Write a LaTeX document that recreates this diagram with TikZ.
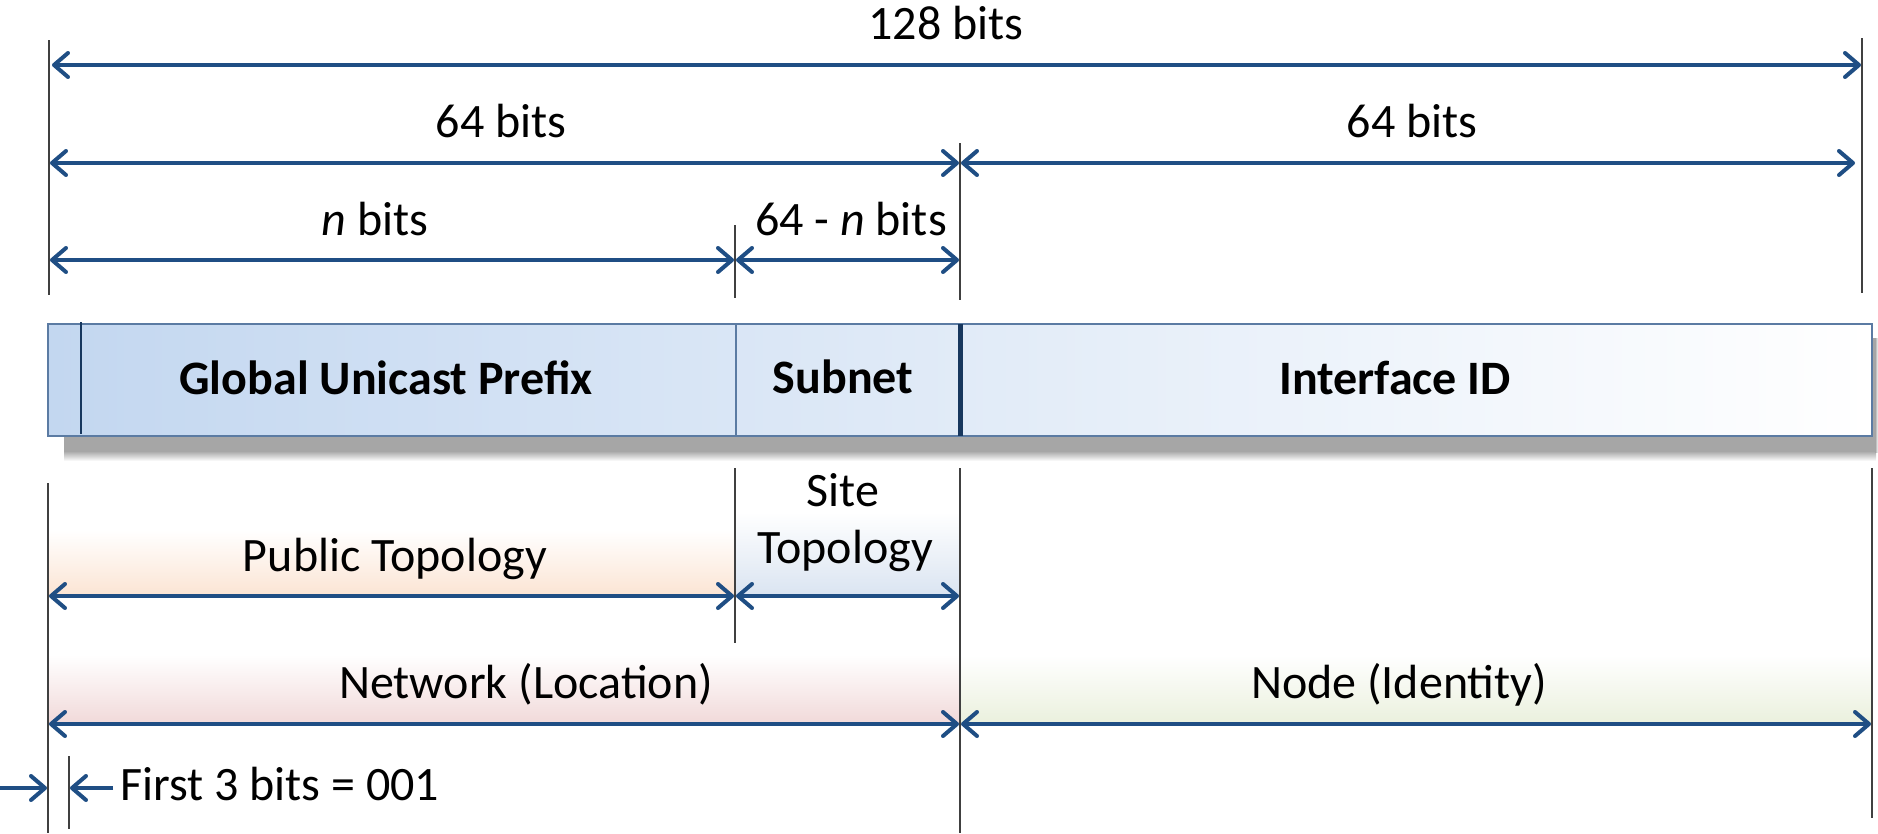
\documentclass[tikz,border=0pt]{standalone}
\usepackage{fontspec}
\setmainfont{Carlito}
\usetikzlibrary{arrows.meta}
\definecolor{arrowc}{HTML}{1F4E84}
\definecolor{vline}{HTML}{404040}
\definecolor{barborder}{HTML}{5B7BA3}
\definecolor{barnavy}{HTML}{17375E}
\definecolor{barblue}{HTML}{C3D7F0}
\definecolor{shadowc}{HTML}{A6A6A6}
\definecolor{orangef}{HTML}{FBE4D3}
\definecolor{bluef}{HTML}{DAE4F1}
\definecolor{pinkf}{HTML}{F1D9D9}
\definecolor{greenf}{HTML}{EAF0DD}
\begin{document}
\begin{tikzpicture}[x=1pt,y=-1pt,
  dim/.style={draw=arrowc, line width=4pt,
    {Straight Barb[length=14pt,width=24pt,round]}-{Straight Barb[length=14pt,width=24pt,round]}},
  dimr/.style={draw=arrowc, line width=4pt, -{Straight Barb[length=14pt,width=24pt,round]}},
  guide/.style={draw=vline, line width=2pt},
  lbl/.style={inner sep=0pt, anchor=base, font=\fontsize{48}{57}\selectfont},
  blbl/.style={lbl, font=\fontsize{48}{57}\selectfont\bfseries}]
\useasboundingbox (0,0) rectangle (1878,833);

% ---------- top guides ----------
\coordinate (tL1) at (49,40);   \coordinate (tL2) at (49,295);
\coordinate (tR1) at (1862,38); \coordinate (tR2) at (1862,293);
\coordinate (tM1) at (960,143); \coordinate (tM2) at (960,300);
\coordinate (tS1) at (735,225); \coordinate (tS2) at (735,298);
\draw[guide] (tL1) -- (tL2);
\draw[guide] (tR1) -- (tR2);
\draw[guide] (tM1) -- (tM2);
\draw[guide] (tS1) -- (tS2);

% top dimension arrows
\coordinate (a128l) at (52,65);  \coordinate (a128r) at (1861,65);
\coordinate (a64l)  at (50,163); \coordinate (a64m)  at (959,163);
\coordinate (a64m2) at (961,163);\coordinate (a64r)  at (1855,163);
\coordinate (anl)   at (50,260); \coordinate (anm)   at (734,260);
\coordinate (anm2)  at (736,260);\coordinate (anr)   at (959,260);
\draw[dim] (a128l) -- (a128r);
\draw[dim] (a64l) -- (a64m);
\draw[dim] (a64m2) -- (a64r);
\draw[dim] (anl) -- (anm);
\draw[dim] (anm2) -- (anr);

\node[lbl] (t128)  at (946,39)  {128 bits};
\node[lbl] (t64a)  at (501,137) {64 bits};
\node[lbl] (t64b)  at (1412,137) {64 bits};
\node[lbl] (tn)    at (375,235) {\textit{n} bits};
\node[lbl] (t64n)  at (851,235) {64 - \textit{n} bits};

% ---------- address bar ----------
\fill[shadowc] (64,338) rectangle (1876,452);
\shade[top color=shadowc, bottom color=white] (64,451) rectangle (1876,461);
\shade[left color=shadowc, right color=white] (1875,338) rectangle (1878,452);
\shade[left color=barblue, right color=white] (48,324) rectangle (1872,436);
\draw[barborder, line width=2pt] (48,324) rectangle (1872,436);
\draw[barnavy, line width=1.5pt] (81,322) -- (81,434);
\draw[barborder, line width=1.5pt] (736,324) -- (736,436);
\draw[barnavy, line width=5pt] (960,324) -- (960,436);

\node[blbl] (gup)  at (386,394) {Global Unicast Prefix};
\node[blbl] (sub)  at (843,393) {Subnet};
\node[blbl] (iid)  at (1395,394) {Interface ID};

% ---------- lower gradient bands ----------
\shade[top color=white, bottom color=orangef] (49,530) rectangle (734,596);
\shade[top color=white, bottom color=bluef] (736,512) rectangle (959,596);
\shade[top color=white, bottom color=pinkf] (49,655) rectangle (959,724);
\shade[top color=white, bottom color=greenf] (961,655) rectangle (1871,724);

% lower guides
\coordinate (bL1) at (48,483);  \coordinate (bL2) at (48,833);
\coordinate (bS1) at (735,468); \coordinate (bS2) at (735,643);
\coordinate (bM1) at (960,468); \coordinate (bM2) at (960,833);
\coordinate (bR1) at (1872,468);\coordinate (bR2) at (1872,818);
\coordinate (bF1) at (69,756);  \coordinate (bF2) at (69,829);
\draw[guide] (bL1) -- (bL2);
\draw[guide] (bS1) -- (bS2);
\draw[guide] (bM1) -- (bM2);
\draw[guide] (bR1) -- (bR2);
\draw[guide] (bF1) -- (bF2);

\coordinate (pl) at (49,596);  \coordinate (pr) at (734,596);
\coordinate (sl) at (736,596); \coordinate (sr) at (959,596);
\coordinate (nl) at (49,724);  \coordinate (nr) at (959,724);
\coordinate (il) at (961,724); \coordinate (ir) at (1871,724);
\draw[dim] (pl) -- (pr);
\draw[dim] (sl) -- (sr);
\draw[dim] (nl) -- (nr);
\draw[dim] (il) -- (ir);

\coordinate (f0) at (0,788);   \coordinate (f1) at (47,788);
\coordinate (f2) at (113,788); \coordinate (f3) at (70,788);
\draw[dimr] (f0) -- (f1);
\draw[dimr] (f2) -- (f3);

\node[lbl] (site)  at (843,506) {Site};
\node[lbl] (topo)  at (845,563) {Topology};
\node[lbl] (pub)   at (395,571) {Public Topology};
\node[lbl] (net)   at (526,698) {Network (Location)};
\node[lbl] (node)  at (1399,698) {Node (Identity)};
\node[lbl, anchor=base west] (first) at (120,800) {First 3 bits = 001};
\end{tikzpicture}
\end{document}
